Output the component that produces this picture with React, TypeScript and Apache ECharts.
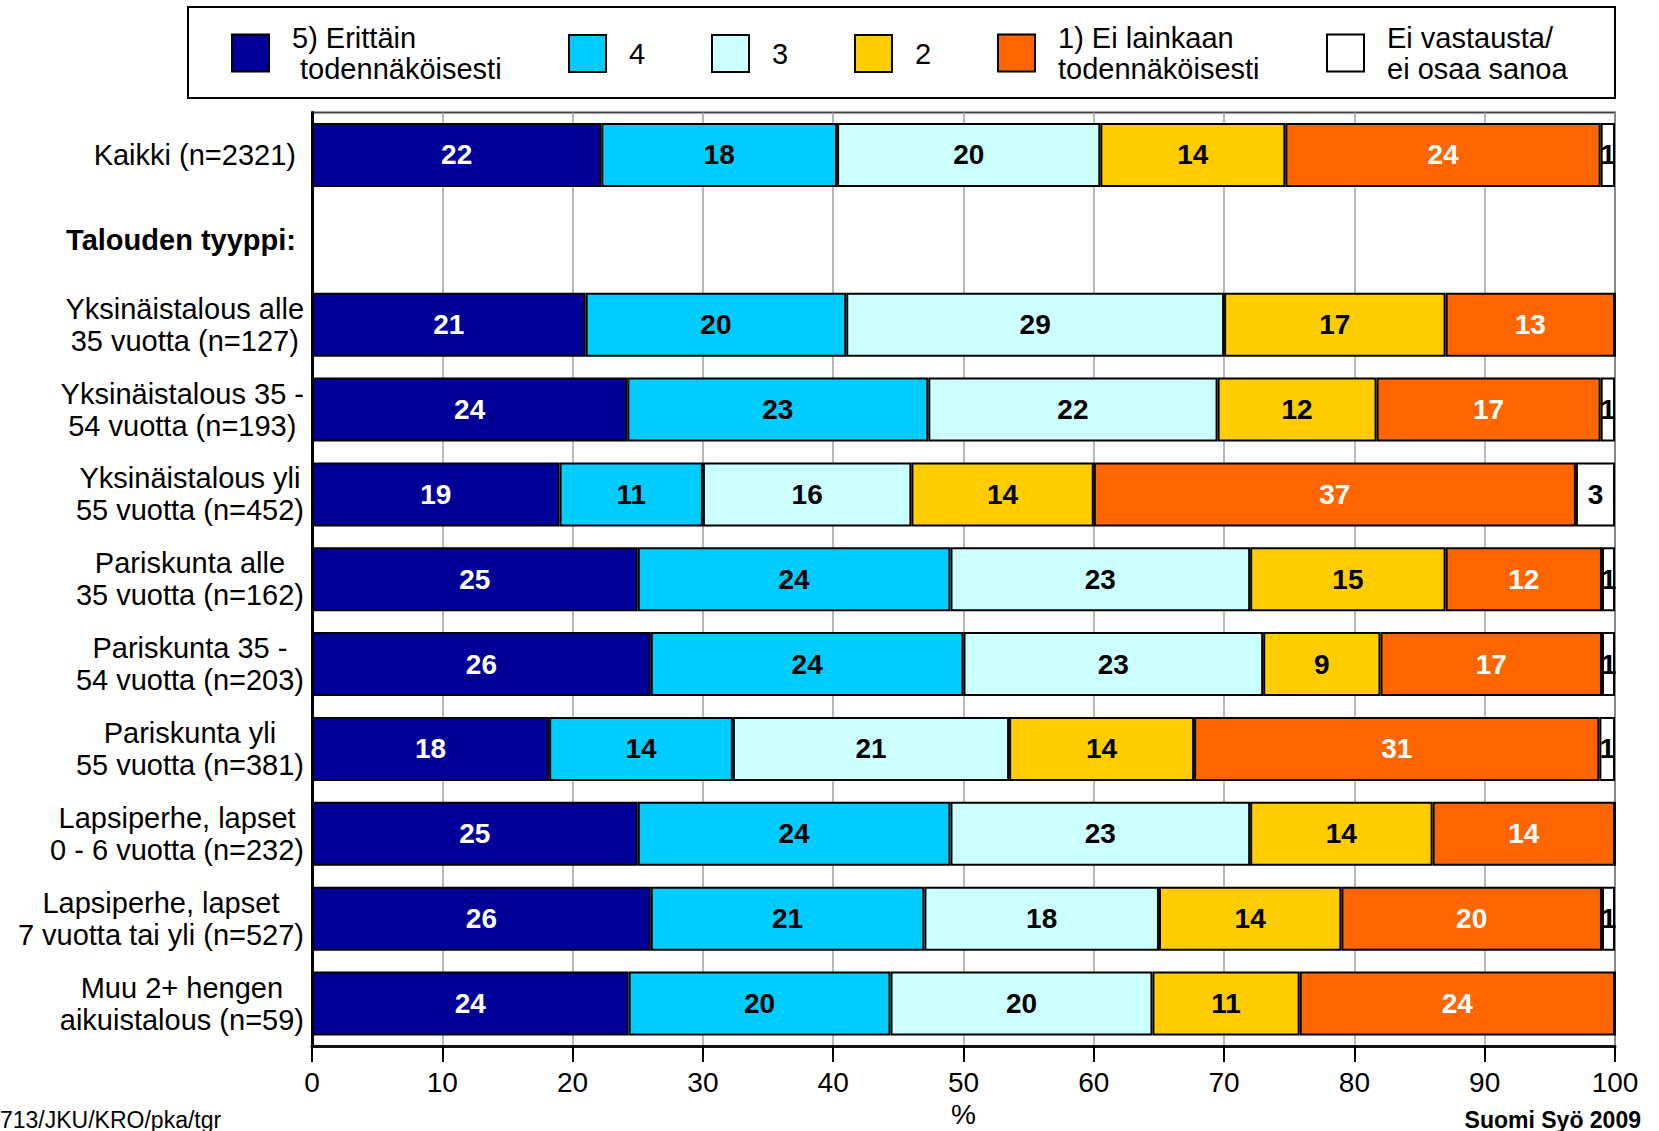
import React, { useEffect, useRef } from "react";
import * as echarts from "echarts";

const categories = [
  "Kaikki (n=2321)",
  "Talouden tyyppi:",
  "Yksinäistalous alle\n35 vuotta (n=127)",
  "Yksinäistalous 35 -\n54 vuotta (n=193)",
  "Yksinäistalous yli\n55 vuotta (n=452)",
  "Pariskunta alle\n35 vuotta (n=162)",
  "Pariskunta 35 -\n54 vuotta (n=203)",
  "Pariskunta yli\n55 vuotta (n=381)",
  "Lapsiperhe, lapset\n0 - 6 vuotta (n=232)",
  "Lapsiperhe, lapset\n7 vuotta tai yli (n=527)",
  "Muu 2+ hengen\naikuistalous (n=59)",
];

const seriesNames = [
  "5) Erittäin\n todennäköisesti",
  "4",
  "3",
  "2",
  "1) Ei lainkaan\ntodennäköisesti",
  "Ei vastausta/\nei osaa sanoa",
];
const colors = ["#000099", "#00CCFF", "#CCFFFF", "#FFCC00", "#FF6600", "#FFFFFF"];
const labelColors = ["#ffffff", "#000000", "#000000", "#000000", "#ffffff", "#000000"];

const v5 = [22.2, null, 21, 24.2, 19, 25, 26, 18.2, 25, 26, 24.3];
const v4 = [18.1, null, 20, 23.1, 11, 24, 24, 14.1, 24, 21, 20.1];
const v3 = [20.2, null, 29, 22.2, 16, 23, 23, 21.2, 23, 18, 20.1];
const v2 = [14.2, null, 17, 12.2, 14, 15, 9, 14.2, 14, 14, 11.3];
const v1 = [24.2, null, 13, 17.2, 37, 12, 17, 31.1, 14, 20, 24.2];
const v0 = [1.1, null, 0, 1.1, 3, 1, 1, 1.2, 0, 1, 0];
const seriesValues = [v5, v4, v3, v2, v1, v0];

const xTicks = { min: 0, max: 100, interval: 10 };

const FONT = "'Liberation Sans', Arial, sans-serif";

const legendLefts = [231, 568, 711, 854, 997, 1326];

export default function App() {
  const ref = useRef<HTMLDivElement>(null);
  useEffect(() => {
    if (!ref.current) return;
    const chart = echarts.init(ref.current, undefined, { renderer: "svg" });
    const legends = seriesNames.map((name, i) => {
      const twoLine = name.includes("\n");
      return {
        data: [name],
        left: legendLefts[i],
        top: twoLine ? 22 : 34,
        padding: 0,
        orient: "horizontal",
        icon: "rect",
        itemWidth: 37,
        itemHeight: 37,
        selectedMode: false,
        itemStyle: { borderColor: "#000", borderWidth: 2 },
        textStyle: {
          fontFamily: FONT,
          fontSize: 29,
          lineHeight: 31,
          color: "#000",
          padding: [0, 0, 0, 18],
        },
      };
    });
    const option = {
      animation: false,
      textStyle: { fontFamily: FONT },
      legend: legends,
      grid: {
        left: 312,
        right: 44,
        top: 112.5,
        bottom: 85,
        outerBoundsMode: "none",
        containLabel: false,
        show: true,
        borderColor: "#444",
        borderWidth: 2,
        backgroundColor: "transparent",
      },
      xAxis: {
        type: "value",
        min: xTicks.min,
        max: xTicks.max,
        interval: xTicks.interval,
        name: "%",
        nameLocation: "middle",
        nameGap: 54,
        nameTextStyle: { fontFamily: FONT, fontSize: 28, color: "#000" },
        axisLine: { show: true, lineStyle: { color: "#111", width: 3 } },
        axisTick: { show: true, length: 16, lineStyle: { color: "#000", width: 2 } },
        axisLabel: { fontFamily: FONT, fontSize: 28, color: "#000", margin: 22 },
        splitLine: { show: true, lineStyle: { color: "#a0a0a0", width: 1.5 } },
      },
      yAxis: {
        type: "category",
        inverse: true,
        data: categories,
        axisLine: { show: true, lineStyle: { color: "#000", width: 3 } },
        axisTick: { show: false },
        splitLine: { show: false },
        axisLabel: {
          margin: 8,
          align: "right",
          fontFamily: FONT,
          fontSize: 29,
          lineHeight: 32,
          color: "#000",
          formatter: (value: string) => {
            const style = value.startsWith("Talouden") ? "b" : "c";
            const lines = value.split("\n");
            if (lines.length === 1) lines[0] = lines[0] + " ";
            return lines.map((l) => `{${style}|${l}}`).join("\n");
          },
          rich: {
            c: { align: "center", fontFamily: FONT, fontSize: 29, lineHeight: 32, color: "#000" },
            b: { align: "center", fontFamily: FONT, fontSize: 29, lineHeight: 32, color: "#000", fontWeight: "bold" },
          },
        },
      },
      series: seriesNames.map((name, i) => ({
        name,
        type: "bar",
        stack: "total",
        barWidth: 64,
        data: seriesValues[i],
        itemStyle: { color: colors[i], borderColor: "#000", borderWidth: 2 },
        label: {
          show: true,
          position: "inside",
          fontFamily: FONT,
          fontSize: 28,
          fontWeight: "bold",
          color: labelColors[i],
          formatter: (p: any) => (p.value ? String(Math.round(p.value)) : ""),
        },
        emphasis: { disabled: true },
      })),
      graphic: [
        {
          type: "rect",
          shape: { x: 188, y: 7, width: 1427, height: 91 },
          style: { fill: "none", stroke: "#000", lineWidth: 2 },
          silent: true,
        },
        {
          type: "text",
          x: 0,
          y: 1131,
          style: { text: "713/JKU/KRO/pka/tgr", fontFamily: FONT, fontSize: 23, fill: "#000", align: "left", verticalAlign: "bottom" },
        },
        {
          type: "text",
          x: 1641,
          y: 1131,
          style: { text: "Suomi Syö 2009", fontFamily: FONT, fontSize: 23, fontWeight: "bold", fill: "#000", align: "right", verticalAlign: "bottom" },
        },
      ],
    };
    chart.setOption(option as any);
    return () => chart.dispose();
  }, []);
  return (
    <div
      ref={ref}
      style={{ position: "fixed", left: 0, top: 0, width: 1659, height: 1131, background: "#fff" }}
    />
  );
}
